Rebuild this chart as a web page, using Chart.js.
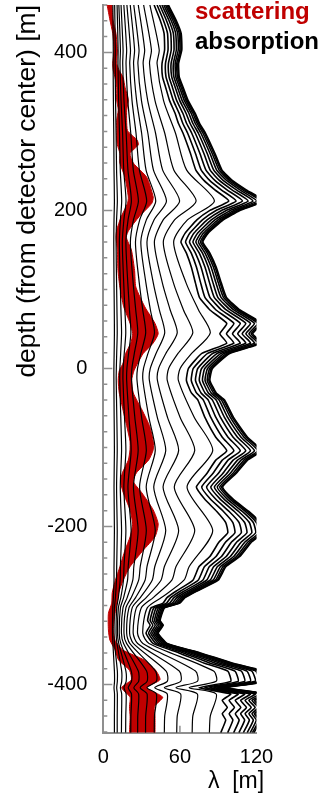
<!DOCTYPE html>
<html>
<head>
<meta charset="utf-8">
<script src="https://cdn.jsdelivr.net/npm/chart.js@4.4.1/dist/chart.umd.min.js"></script>
<style>
  html, body { margin: 0; padding: 0; background: #fff; }
</style>
</head>
<body>
<canvas id="iceChart" width="334" height="798"></canvas>
<script>
// axis ranges and labelled ticks
const yMin = -461, yMax = 460;
const yTickValues = [-400, -200, 0, 200, 400];
const xTickValues = [0, 60, 120];

const yTitle = 'depth (from detector center) [m]';
const xTitle = 'λ  [m]';
const legendTexts = ['scattering', 'absorption'];

// depths (m) for the dense outer absorption curves
const bundleDepths = [460, 441, 424, 403, 386, 369, 356, 339, 323, 310, 298, 272, 251, 238, 226, 212, 200, 188, 171, 160,
  146, 128, 108, 90, 74, 57, 44, 32, 19, 0, -15, -31, -40, -62, -87, -104, -116, -133, -150, -165,
  -181, -195, -208, -220, -238, -251, -268, -282, -290, -297, -303, -319, -325, -335, -348, -360, -373, -383, -396, -404,
  -412, -420, -429, -437, -445, -461];

// outer absorption curves, outermost first (lambda in m)
const absBundle = [
  [51, 57, 61, 61.5, 59, 59.5, 62.5, 66.5, 72, 75.5, 80, 87.5, 93, 101, 112, 126, 107, 94, 82, 78, 83.5, 88.5, 92.5, 96.5, 107, 124, 117, 124, 99, 85.5, 83.5, 88.5, 95, 102, 113, 124, 113, 104, 93.5, 101.5, 114, 123, 125, 116, 107, 96, 90, 73, 64, 60, 48, 44.5, 47, 43, 50, 76, 101.5, 125, 128, 96, 128, 119.5, 124.5, 119.5, 123, 118],
  [50.5, 56.4, 60.4, 60.9, 58.4, 58.9, 61.9, 65.8, 71.3, 74.7, 79.2, 86.6, 92.1, 100.0, 110.9, 124.7, 105.9, 93.1, 81.2, 77.2, 82.7, 87.6, 91.6, 95.5, 105.9, 122.8, 115.8, 122.8, 98.0, 84.6, 82.7, 87.6, 94.1, 101.0, 111.9, 122.8, 111.9, 103.0, 92.6, 100.5, 112.9, 121.8, 123.8, 114.8, 105.9, 95.0, 89.1, 72.3, 63.4, 59.4, 47.5, 44.1, 46.5, 42.6, 49.5, 75.2, 100.5, 123.8, 126.7, 95.0, 126.7, 118.3, 123.3, 118.3, 121.8, 116.8],
  [49.7, 55.6, 59.5, 60.0, 57.5, 58.0, 60.9, 64.8, 70.2, 73.6, 78.0, 85.3, 90.7, 98.5, 109.2, 122.9, 104.3, 91.7, 80.0, 76.1, 81.4, 86.3, 90.2, 94.1, 104.3, 120.9, 114.1, 120.9, 96.5, 83.4, 81.4, 86.3, 92.6, 99.5, 110.2, 120.9, 110.2, 101.4, 91.2, 99.0, 111.2, 119.9, 121.9, 113.1, 104.3, 93.6, 87.8, 71.2, 62.4, 58.5, 46.8, 43.4, 45.8, 41.9, 48.8, 74.1, 99.0, 121.9, 124.8, 93.6, 124.8, 116.5, 121.4, 116.5, 119.9, 115.1],
  [48.7, 54.4, 58.3, 58.7, 56.3, 56.8, 59.7, 63.5, 68.8, 72.1, 76.4, 83.6, 88.8, 96.5, 107.0, 120.3, 102.2, 89.8, 78.3, 74.5, 79.7, 84.5, 88.3, 92.2, 102.2, 118.4, 111.7, 118.4, 94.5, 81.7, 79.7, 84.5, 90.7, 97.4, 107.9, 118.4, 107.9, 99.3, 89.3, 96.9, 108.9, 117.5, 119.4, 110.8, 102.2, 91.7, 86.0, 69.7, 61.1, 57.3, 45.8, 42.5, 44.9, 41.1, 47.8, 72.6, 96.9, 119.4, 122.2, 91.7, 122.2, 114.1, 118.9, 114.1, 117.5, 112.7],
  [47.4, 53.0, 56.7, 57.2, 54.9, 55.3, 58.1, 61.8, 67.0, 70.2, 74.4, 81.4, 86.5, 93.9, 104.2, 117.2, 99.5, 87.4, 76.3, 72.5, 77.7, 82.3, 86.0, 89.7, 99.5, 115.3, 108.8, 115.3, 92.1, 79.5, 77.7, 82.3, 88.4, 94.9, 105.1, 115.3, 105.1, 96.7, 87.0, 94.4, 106.0, 114.4, 116.3, 107.9, 99.5, 89.3, 83.7, 67.9, 59.5, 55.8, 44.6, 41.4, 43.7, 40.0, 46.5, 70.7, 94.4, 116.3, 119.0, 89.3, 119.0, 111.1, 115.8, 111.1, 114.4, 109.7],
  [45.9, 51.3, 54.9, 55.4, 53.1, 53.6, 56.3, 59.9, 64.8, 68.0, 72.0, 78.8, 83.7, 90.9, 100.8, 113.4, 96.3, 84.6, 73.8, 70.2, 75.2, 79.7, 83.3, 86.9, 96.3, 111.6, 105.3, 111.6, 89.1, 77.0, 75.2, 79.7, 85.5, 91.8, 101.7, 111.6, 101.7, 93.6, 84.2, 91.4, 102.6, 110.7, 112.5, 104.4, 96.3, 86.4, 81.0, 65.7, 57.6, 54.0, 43.2, 40.1, 42.3, 38.7, 45.0, 68.4, 91.4, 112.5, 115.2, 86.4, 115.2, 107.6, 112.1, 107.6, 110.7, 106.2],
  [44.1, 49.3, 52.8, 53.2, 51.0, 51.5, 54.1, 57.5, 62.3, 65.3, 69.2, 75.7, 80.4, 87.4, 96.9, 109.0, 92.6, 81.3, 70.9, 67.5, 72.2, 76.6, 80.0, 83.5, 92.6, 107.3, 101.2, 107.3, 85.6, 74.0, 72.2, 76.6, 82.2, 88.2, 97.7, 107.3, 97.7, 90.0, 80.9, 87.8, 98.6, 106.4, 108.1, 100.3, 92.6, 83.0, 77.9, 63.1, 55.4, 51.9, 41.5, 38.5, 40.7, 37.2, 43.3, 65.7, 87.8, 108.1, 110.7, 83.0, 110.7, 103.4, 107.7, 103.4, 106.4, 102.1],
  [42.1, 47.0, 50.3, 50.7, 48.7, 49.1, 51.6, 54.9, 59.4, 62.3, 66.0, 72.2, 76.7, 83.3, 92.4, 104.0, 88.3, 77.6, 67.7, 64.4, 68.9, 73.0, 76.3, 79.6, 88.3, 102.3, 96.5, 102.3, 81.7, 70.5, 68.9, 73.0, 78.4, 84.2, 93.2, 102.3, 93.2, 85.8, 77.1, 83.7, 94.1, 101.5, 103.1, 95.7, 88.3, 79.2, 74.3, 60.2, 52.8, 49.5, 39.6, 36.7, 38.8, 35.5, 41.3, 62.7, 83.7, 103.1, 105.6, 79.2, 105.6, 98.6, 102.7, 98.6, 101.5, 97.4],
  [39.8, 44.5, 47.6, 48.0, 46.0, 46.4, 48.8, 51.9, 56.2, 58.9, 62.4, 68.3, 72.5, 78.8, 87.4, 98.3, 83.5, 73.3, 64.0, 60.8, 65.1, 69.0, 72.2, 75.3, 83.5, 96.7, 91.3, 96.7, 77.2, 66.7, 65.1, 69.0, 74.1, 79.6, 88.1, 96.7, 88.1, 81.1, 72.9, 79.2, 88.9, 95.9, 97.5, 90.5, 83.5, 74.9, 70.2, 56.9, 49.9, 46.8, 37.4, 34.7, 36.7, 33.5, 39.0, 59.3, 79.2, 97.5, 99.8, 74.9, 99.8, 93.2, 97.1, 93.2, 95.9, 92.0]
];

// depths (m) for the inner, less wavy absorption curves
const innerDepths = [460, 403, 386, 339, 298, 251, 212, 188, 160, 108, 74, 45, 19, 0, -15, -62, -104, -150, -205, -251,
  -268, -290, -303, -335, -348, -383, -396, -404, -412, -440, -461];

// inner absorption curves, innermost first (lambda in m)
const absInner = [
  [7.5, 7.8, 7.7, 7.9, 8.2, 8.4, 8.7, 8.4, 8.2, 8.4, 8.6, 8.7, 8.5, 8.3, 8.3, 8.5, 8.7, 8.4, 8.7, 8.4, 8.4, 7.9, 7.4, 7.2, 7.5, 8.7, 8.8, 8.4, 8.8, 8.7, 8.7],
  [8.9, 9.4, 9.3, 9.6, 10.0, 10.4, 11.0, 10.4, 10.0, 10.4, 10.7, 10.9, 10.5, 10.2, 10.1, 10.6, 10.9, 10.4, 10.9, 10.5, 10.3, 9.5, 8.7, 8.4, 8.8, 11.0, 11.0, 10.5, 11.0, 10.9, 10.9],
  [10.8, 11.6, 11.5, 12.0, 12.7, 13.3, 14.4, 13.4, 12.6, 13.3, 13.8, 14.3, 13.6, 13.0, 12.9, 13.7, 14.3, 13.3, 14.3, 13.4, 13.2, 11.8, 10.5, 10.0, 10.7, 14.4, 14.4, 13.4, 14.4, 14.3, 14.2],
  [12.2, 13.4, 13.1, 13.9, 15.1, 16.0, 17.8, 16.1, 14.9, 16.0, 16.9, 17.6, 16.4, 15.5, 15.4, 16.6, 17.7, 16.1, 17.7, 16.2, 15.8, 13.7, 11.8, 11.1, 12.1, 17.7, 17.9, 16.2, 17.9, 17.6, 17.5],
  [13.9, 15.5, 15.2, 16.2, 17.9, 19.3, 22.0, 19.4, 17.7, 19.2, 20.5, 21.6, 19.8, 18.5, 18.3, 20.1, 21.8, 19.3, 21.8, 19.5, 19.0, 15.9, 13.4, 12.5, 13.7, 21.9, 22.1, 19.5, 22.1, 21.6, 21.5],
  [16.1, 18.3, 17.8, 19.2, 21.5, 23.5, 27.5, 23.6, 21.2, 23.4, 25.4, 27.0, 24.3, 22.4, 22.1, 24.7, 27.3, 23.6, 27.3, 23.9, 23.1, 18.7, 15.4, 14.2, 15.9, 27.4, 27.7, 23.9, 27.7, 27.0, 26.9],
  [18.5, 21.3, 20.7, 22.5, 25.6, 28.3, 34.0, 28.5, 25.2, 28.2, 30.9, 33.2, 29.4, 26.8, 26.4, 30.0, 33.7, 28.4, 33.7, 28.9, 27.7, 21.9, 17.7, 16.2, 18.2, 33.9, 34.3, 28.9, 34.3, 33.2, 33.1],
  [21.1, 24.5, 23.7, 26.1, 30.0, 33.5, 41.1, 33.7, 29.4, 33.4, 36.9, 40.1, 35.0, 31.5, 31.0, 35.7, 40.7, 33.6, 40.7, 34.2, 32.7, 25.3, 20.1, 18.3, 20.7, 40.9, 41.6, 34.2, 41.6, 40.1, 39.9],
  [23.9, 28.0, 27.1, 29.9, 34.9, 39.3, 49.5, 39.7, 34.2, 39.2, 43.9, 48.1, 41.3, 36.8, 36.1, 42.3, 48.9, 39.5, 48.9, 40.3, 38.3, 29.0, 22.6, 20.6, 23.5, 49.2, 50.1, 40.3, 50.1, 48.1, 47.8],
  [27.4, 32.4, 31.2, 34.8, 40.9, 46.5, 59.8, 46.9, 40.0, 46.3, 52.4, 57.9, 49.0, 43.3, 42.4, 50.3, 59.0, 46.8, 59.0, 47.8, 45.2, 33.6, 25.9, 23.4, 26.9, 59.5, 60.6, 47.8, 60.6, 57.9, 57.5],
  [31.6, 37.7, 36.2, 40.5, 48.1, 55.3, 72.7, 55.8, 47.0, 55.0, 62.8, 70.1, 58.5, 51.2, 50.1, 60.2, 71.6, 55.6, 71.6, 56.9, 53.7, 39.1, 29.8, 26.8, 31.0, 72.2, 73.7, 56.9, 73.7, 70.1, 69.6],
  [36.5, 43.8, 42.1, 47.2, 56.5, 65.3, 87.0, 65.9, 55.1, 64.9, 74.6, 83.8, 69.2, 60.2, 58.8, 71.3, 85.7, 65.6, 85.7, 67.2, 63.2, 45.5, 34.4, 30.9, 35.8, 86.4, 88.4, 67.2, 88.4, 83.8, 83.1]
];

// scattering band: depth, left and right edge (lambda in m)
const scatDepths = [460, 441, 424, 403, 386, 377, 368, 356, 340, 327, 314, 301, 289, 283, 272, 260, 242, 217, 209, 192,
  175, 166, 150, 124, 103, 78, 57, 44, 32, 19, 7, -3, -15, -31, -53, -74, -92, -103, -116, -132,
  -143, -157, -179, -197, -213, -230, -251, -268, -284, -297, -310, -331, -344, -356, -369, -382, -394, -404, -416, -428,
  -441, -461];
const scatLeft = [3.0, 5.2, 7.4, 8.4, 7.4, 7.8, 9.2, 10.5, 10.5, 11.7, 10.5, 10.5, 10.5, 11.0, 13.0, 13.0, 17.0, 19.6, 19.0, 14.0,
  10.5, 10.0, 11.0, 11.5, 13.0, 16.0, 21.0, 23.0, 21.5, 17.5, 15.6, 12.5, 11.7, 12.5, 15.5, 18.5, 20.9, 20.9, 19.6, 15.0,
  13.5, 15.6, 20.9, 23.0, 21.0, 17.0, 13.0, 9.5, 7.0, 6.6, 4.0, 4.0, 5.2, 9.2, 12.0, 20.5, 22.0, 14.4, 21.0, 20.5,
  21.0, 20.5];
const scatRight = [6.8, 7.6, 9.9, 11.0, 10.5, 12.5, 15.6, 17.0, 19.6, 18.3, 18.3, 19.0, 26.5, 27.4, 21.0, 23.5, 34.0, 39.1, 38.0, 28.0,
  20.0, 18.0, 22.0, 24.5, 25.5, 32.5, 40.5, 43.0, 39.0, 31.3, 27.0, 24.0, 22.2, 23.5, 30.5, 36.5, 39.1, 39.1, 35.5, 26.0,
  23.5, 30.0, 39.1, 43.0, 40.5, 31.3, 20.9, 15.6, 12.0, 10.8, 9.2, 7.8, 9.2, 15.0, 32.0, 41.0, 44.4, 34.0, 46.5, 40.0,
  40.5, 40.5];

const family = '"Liberation Sans", Arial, Helvetica, sans-serif';
const red = 'rgb(192, 0, 0)';
const axisGray = '#8f8f8f';

function toPoints(depths, values) {
  return depths.map((d, i) => ({x: values[i], y: d}));
}

const datasets = [];
absBundle.forEach(vals => {
  datasets.push({data: toPoints(bundleDepths, vals), borderColor: '#000', borderWidth: 1.6, tension: 0.15, fill: false});
});
absInner.forEach(vals => {
  datasets.push({data: toPoints(innerDepths, vals), borderColor: '#000', borderWidth: 1.2, tension: 0.25, fill: false});
});
datasets.push({data: toPoints(scatDepths, scatRight), borderColor: red, backgroundColor: red, borderWidth: 1, tension: 0.2, fill: '+1'});
datasets.push({data: toPoints(scatDepths, scatLeft), borderColor: red, backgroundColor: red, borderWidth: 1, tension: 0.2, fill: false});

// inward axis ticks, legend words and the x title
const decorations = {
  id: 'decorations',
  beforeDatasetsDraw(chart) {
    const {ctx, chartArea, scales: {x, y}} = chart;
    ctx.save();
    ctx.strokeStyle = axisGray;
    ctx.lineWidth = 1.5;
    ctx.beginPath();
    for (let v = -460; v <= 460; v += 20) {
      const py = y.getPixelForValue(v);
      const len = yTickValues.includes(v) ? 9 : 4;
      ctx.moveTo(chartArea.left, py);
      ctx.lineTo(chartArea.left + len, py);
    }
    const px = x.getPixelForValue(60);
    ctx.moveTo(px, chartArea.bottom);
    ctx.lineTo(px, chartArea.bottom - 7);
    ctx.stroke();
    ctx.restore();
  },
  afterDraw(chart) {
    const {ctx} = chart;
    ctx.save();
    ctx.textAlign = 'left';
    ctx.textBaseline = 'alphabetic';
    ctx.font = 'bold 24px ' + family;
    ctx.fillStyle = red;
    ctx.fillText(legendTexts[0], 195, 19);
    ctx.fillStyle = '#000';
    ctx.fillText(legendTexts[1], 195, 49);
    ctx.font = '23px ' + family;
    ctx.textAlign = 'center';
    ctx.fillText(xTitle, 236, 788);
    ctx.restore();
  }
};

new Chart(document.getElementById('iceChart'), {
  type: 'line',
  data: {datasets},
  plugins: [decorations],
  options: {
    indexAxis: 'y',
    responsive: false,
    animation: false,
    events: [],
    layout: {padding: {left: 0, top: 5, right: 77.5, bottom: 0}},
    elements: {point: {radius: 0}},
    plugins: {
      legend: {display: false},
      tooltip: {enabled: false},
      filler: {drawTime: 'beforeDatasetsDraw'}
    },
    scales: {
      x: {
        type: 'linear',
        position: 'bottom',
        min: 0,
        max: 120,
        afterBuildTicks(s) { s.ticks = xTickValues.map(v => ({value: v})); },
        afterFit(s) { s.height = 65.3; s.paddingLeft = 0; s.paddingRight = 0; },
        grid: {display: false},
        border: {display: true, color: axisGray, width: 2},
        ticks: {color: '#000', padding: 5, maxRotation: 0, autoSkip: false, font: {family, size: 20}}
      },
      y: {
        type: 'linear',
        position: 'left',
        min: yMin,
        max: yMax,
        afterBuildTicks(s) { s.ticks = yTickValues.map(v => ({value: v})); },
        afterFit(s) { s.width = 103.3; s.paddingTop = 0; s.paddingBottom = 0; },
        grid: {display: false},
        border: {display: true, color: axisGray, width: 2},
        ticks: {color: '#000', padding: 8, font: {family, size: 20}},
        title: {display: true, text: yTitle, align: 'end', color: '#000', font: {family, size: 26.5}, padding: {top: 12, bottom: 0}}
      }
    }
  }
});
</script>
</body>
</html>
